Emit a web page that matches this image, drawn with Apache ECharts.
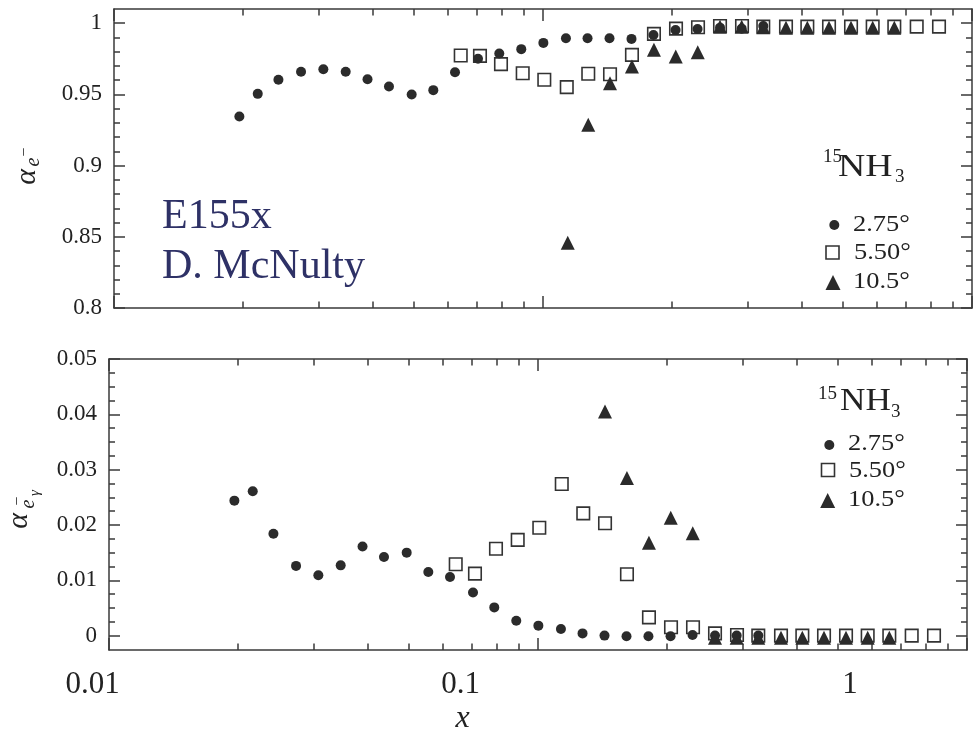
<!DOCTYPE html>
<html><head><meta charset="utf-8">
<script src="https://cdn.jsdelivr.net/npm/echarts@6/dist/echarts.min.js"></script>
<style>html,body{margin:0;padding:0;background:#fff}#c{width:978px;height:735px}</style>
</head><body><div id="c"></div>
<script>
// ---------------- data ----------------
const xCircle = [0.0196,0.02163,0.02417,0.02729,0.03076,0.03468,0.03899,0.04375,0.04942,0.0555,0.06236,0.07055,0.07908,0.08899,0.1002,0.1131,0.1270,0.1429,0.1608,0.1809,0.2037,0.2292,0.2586,0.2905,0.3262];
const xSquare = [0.0643,0.0713,0.07981,0.08968,0.1007,0.1136,0.1275,0.1433,0.1612,0.1814,0.2042,0.2298,0.2586,0.2910,0.3262,0.3685,0.4132,0.4642,0.5224,0.5868,0.6590,0.7432,0.8377];
const xTriangleTop = [0.1142,0.1275,0.1433,0.1612,0.1814,0.2039,0.2295,0.2586,0.2905,0.3262,0.3685,0.4132,0.4642,0.5224,0.5868,0.6590];
const xTriangleBottom = [0.1433,0.1612,0.1814,0.2039,0.2295,0.2586,0.2905,0.3262,0.3685,0.4132,0.4642,0.5224,0.5868,0.6590];

const topCircle = [0.9345,0.9504,0.9603,0.9659,0.9677,0.9659,0.9607,0.9556,0.9500,0.9530,0.9656,0.9750,0.9787,0.9818,0.9862,0.9895,0.9895,0.9895,0.9890,0.9918,0.9953,0.9960,0.9969,0.9962,0.9980];
const topSquare = [0.9773,0.9771,0.9713,0.9649,0.9603,0.9551,0.9645,0.9642,0.9778,0.9925,0.9962,0.9972,0.9981,0.9981,0.9976,0.9976,0.9976,0.9976,0.9976,0.9976,0.9976,0.9976,0.9976];
const topTriangle = [0.8458,0.9287,0.9579,0.9696,0.9813,0.9766,0.9797,0.9976,0.9976,0.9972,0.9969,0.9969,0.9969,0.9969,0.9969,0.9969];

const botCircle = [0.0244,0.0261,0.0184,0.0126,0.0109,0.0127,0.0161,0.0142,0.0150,0.0115,0.0106,0.0078,0.0051,0.0027,0.0018,0.0012,0.0004,0.0000,-0.0001,-0.0001,-0.0001,0.0001,0.0000,0.0000,0.0000];
const botSquare = [0.0129,0.0112,0.0157,0.0173,0.0195,0.0274,0.0221,0.0203,0.0111,0.0033,0.0015,0.0015,0.0004,0.0001,0.0000,0.0000,0.0000,0.0000,0.0000,0.0000,0.0000,0.0000,0.0000];
const botTriangle = [0.0405,0.0285,0.0168,0.0213,0.0185,-0.0004,-0.0004,-0.0004,-0.0004,-0.0004,-0.0004,-0.0004,-0.0004,-0.0004];

const seriesNames = ['2.75°','5.50°','10.5°'];
const xTickLabels = ['0.01','0.1','1'];
const xMajorTicks = [0.01,0.1,1];
const xMinorTicks = [0.02,0.03,0.04,0.05,0.06,0.07,0.08,0.09,0.2,0.3,0.4,0.5,0.6,0.7,0.8,0.9];
const yTopTicks = [0.8,0.85,0.9,0.95,1];
const yTopMinor = [0.81,0.82,0.83,0.84,0.86,0.87,0.88,0.89,0.91,0.92,0.93,0.94,0.96,0.97,0.98,0.99];
const yBotTicks = [0,0.01,0.02,0.03,0.04,0.05];
const yBotMinor = [0.0025,0.005,0.0075,0.0125,0.015,0.0175,0.0225,0.025,0.0275,0.0325,0.035,0.0375,0.0425,0.045,0.0475];

// ---------------- styling ----------------
const SERIF = '"Liberation Serif", "Times New Roman", serif';
const AX = {color:'#3a3a3a', width:1.5};
const TXT = '#222';
const MARK = '#2b2b2b';
const NAVY = '#2e3166';

const pair = (xs, ys) => xs.map((x, i) => [x, ys[i]]);
const lg = v => Math.log10(v);

function xAxesFor(g) {
  const base = {type:'value', gridIndex:g, min:-2, max:0, splitLine:{show:false}, axisLabel:{show:false}};
  return [
    {type:'log', logBase:10, gridIndex:g, min:0.01, max:1, show:false},
    Object.assign({}, base, {position:'bottom', axisLine:{show:true,onZero:false,lineStyle:AX},
      axisTick:{show:true,inside:true,length:12,customValues:xMajorTicks.map(lg),lineStyle:AX}}),
    Object.assign({}, base, {position:'bottom', axisLine:{show:false,onZero:false},
      axisTick:{show:true,inside:true,length:6.5,customValues:xMinorTicks.map(lg),lineStyle:AX}}),
    Object.assign({}, base, {position:'top', axisLine:{show:true,onZero:false,lineStyle:AX},
      axisTick:{show:true,inside:true,length:12,customValues:xMajorTicks.map(lg),lineStyle:AX}}),
    Object.assign({}, base, {position:'top', axisLine:{show:false,onZero:false},
      axisTick:{show:true,inside:true,length:6.5,customValues:xMinorTicks.map(lg),lineStyle:AX}})
  ];
}
function yAxesFor(g, min, max, major, minor) {
  const base = {type:'value', gridIndex:g, min:min, max:max, splitLine:{show:false}};
  return [
    Object.assign({}, base, {position:'left', axisLine:{show:true,onZero:false,lineStyle:AX},
      axisTick:{show:true,inside:true,length:11,customValues:major,lineStyle:AX},
      axisLabel:{show:true,customValues:major,margin:12,fontFamily:SERIF,fontSize:23,color:TXT}}),
    Object.assign({}, base, {position:'left', axisLine:{show:false,onZero:false}, axisLabel:{show:false},
      axisTick:{show:true,inside:true,length:6,customValues:minor,lineStyle:AX}}),
    Object.assign({}, base, {position:'right', axisLine:{show:true,onZero:false,lineStyle:AX}, axisLabel:{show:false},
      axisTick:{show:true,inside:true,length:11,customValues:major,lineStyle:AX}}),
    Object.assign({}, base, {position:'right', axisLine:{show:false,onZero:false}, axisLabel:{show:false},
      axisTick:{show:true,inside:true,length:6,customValues:minor,lineStyle:AX}})
  ];
}
function seriesFor(xi, yi, sq, ci, tr) {
  return [
    {type:'scatter', name:seriesNames[1], xAxisIndex:xi, yAxisIndex:yi, data:sq, symbol:'rect', symbolSize:12.5,
     itemStyle:{color:'rgba(0,0,0,0)', borderColor:'#333', borderWidth:1.6, opacity:1}, z:2},
    {type:'scatter', name:seriesNames[0], xAxisIndex:xi, yAxisIndex:yi, data:ci, symbol:'circle', symbolSize:10,
     itemStyle:{color:MARK, opacity:1}, z:3},
    {type:'scatter', name:seriesNames[2], xAxisIndex:xi, yAxisIndex:yi, data:tr, symbol:'triangle', symbolSize:[14,14],
     itemStyle:{color:MARK, opacity:1}, z:4}
  ];
}

function txt(x, y, text, size, opts) {
  opts = opts || {};
  return {type:'text', x:x, y:y, scaleX:opts.sx || 1, z:10,
    style:{text:text, font:(opts.italic?'italic ':'') + size + 'px ' + SERIF, fill:opts.fill || TXT,
      align:opts.align || 'left', verticalAlign:'middle'}};
}
function legendBlock(h, items) {
  const els = [
    txt(h.x15, h.y15, '15', 19),
    txt(h.xNH, h.yNH, 'NH', 32, {sx:h.sx}),
    txt(h.x3, h.y3, '3', 19)
  ];
  const c = items.circle, s = items.square, t = items.tri;
  els.push({type:'circle', z:10, shape:{cx:c.x, cy:c.y, r:5}, style:{fill:MARK}});
  els.push({type:'rect', z:10, shape:{x:s.x-6.5, y:s.y-6.5, width:13, height:13}, style:{fill:'none', stroke:'#333', lineWidth:1.6}});
  els.push({type:'polygon', z:10, shape:{points:[[t.x, t.y-7.5],[t.x-7.5, t.y+7.5],[t.x+7.5, t.y+7.5]]}, style:{fill:MARK}});
  els.push(txt(items.tx, c.ty, seriesNames[0], 24, {sx:1.1}));
  els.push(txt(items.tx+1, s.ty, seriesNames[1], 24, {sx:1.1}));
  els.push(txt(items.tx, t.ty, seriesNames[2], 24, {sx:1.1}));
  return els;
}

const graphics = [
  txt(162, 217, 'E155x', 42, {fill:NAVY}),
  txt(162, 267, 'D. McNulty', 42, {fill:NAVY}),
  ...legendBlock({x15:823, y15:157, xNH:838, yNH:168, sx:1.18, x3:895, y3:177},
    {circle:{x:834.3, y:225, ty:225}, square:{x:832.5, y:252.5, ty:252.5}, tri:{x:833, y:282.5, ty:282}, tx:853}),
  ...legendBlock({x15:818, y15:394, xNH:840, yNH:402, sx:1.1, x3:891, y3:412},
    {circle:{x:829.3, y:445, ty:444}, square:{x:828, y:470, ty:471}, tri:{x:827.7, y:500.5, ty:499.5}, tx:848}),
  txt(92.5, 685, xTickLabels[0], 31, {align:'center'}),
  txt(460.5, 685, xTickLabels[1], 31, {align:'center'}),
  txt(850, 685, xTickLabels[2], 31, {align:'center'}),
  txt(462.5, 719, 'x', 32, {align:'center', italic:true}),
  {type:'group', x:29, y:177, rotation:Math.PI/2, z:10, children:[
    txt(0, -2, 'α', 30, {align:'center', italic:true}),
    txt(15, 5, 'e', 20, {align:'center', italic:true}),
    txt(25, -4, '−', 16, {align:'center'})
  ]},
  {type:'group', x:21, y:521, rotation:Math.PI/2, z:10, children:[
    txt(0, -2, 'α', 30, {align:'center', italic:true}),
    txt(17, 8, 'e', 20, {align:'center', italic:true}),
    txt(20, -3, '−', 16, {align:'center'}),
    txt(28, 14, 'γ', 15, {align:'center', italic:true})
  ]}
];

const option = {
  animation:false,
  backgroundColor:'#fff',
  grid:[
    {left:114, top:9, width:858, height:299, outerBoundsMode:'none', containLabel:false},
    {left:109, top:359, width:858, height:291, outerBoundsMode:'none', containLabel:false}
  ],
  xAxis:[...xAxesFor(0), ...xAxesFor(1)],
  yAxis:[...yAxesFor(0, 0.8, 1.01, yTopTicks, yTopMinor), ...yAxesFor(1, -0.0026, 0.05, yBotTicks, yBotMinor)],
  series:[
    ...seriesFor(0, 0, pair(xSquare, topSquare), pair(xCircle, topCircle), pair(xTriangleTop, topTriangle)),
    ...seriesFor(5, 4, pair(xSquare, botSquare), pair(xCircle, botCircle), pair(xTriangleBottom, botTriangle))
  ],
  graphic:graphics
};
const chart = echarts.init(document.getElementById('c'), null, {renderer:'canvas'});
chart.setOption(option);
</script>
</body></html>
